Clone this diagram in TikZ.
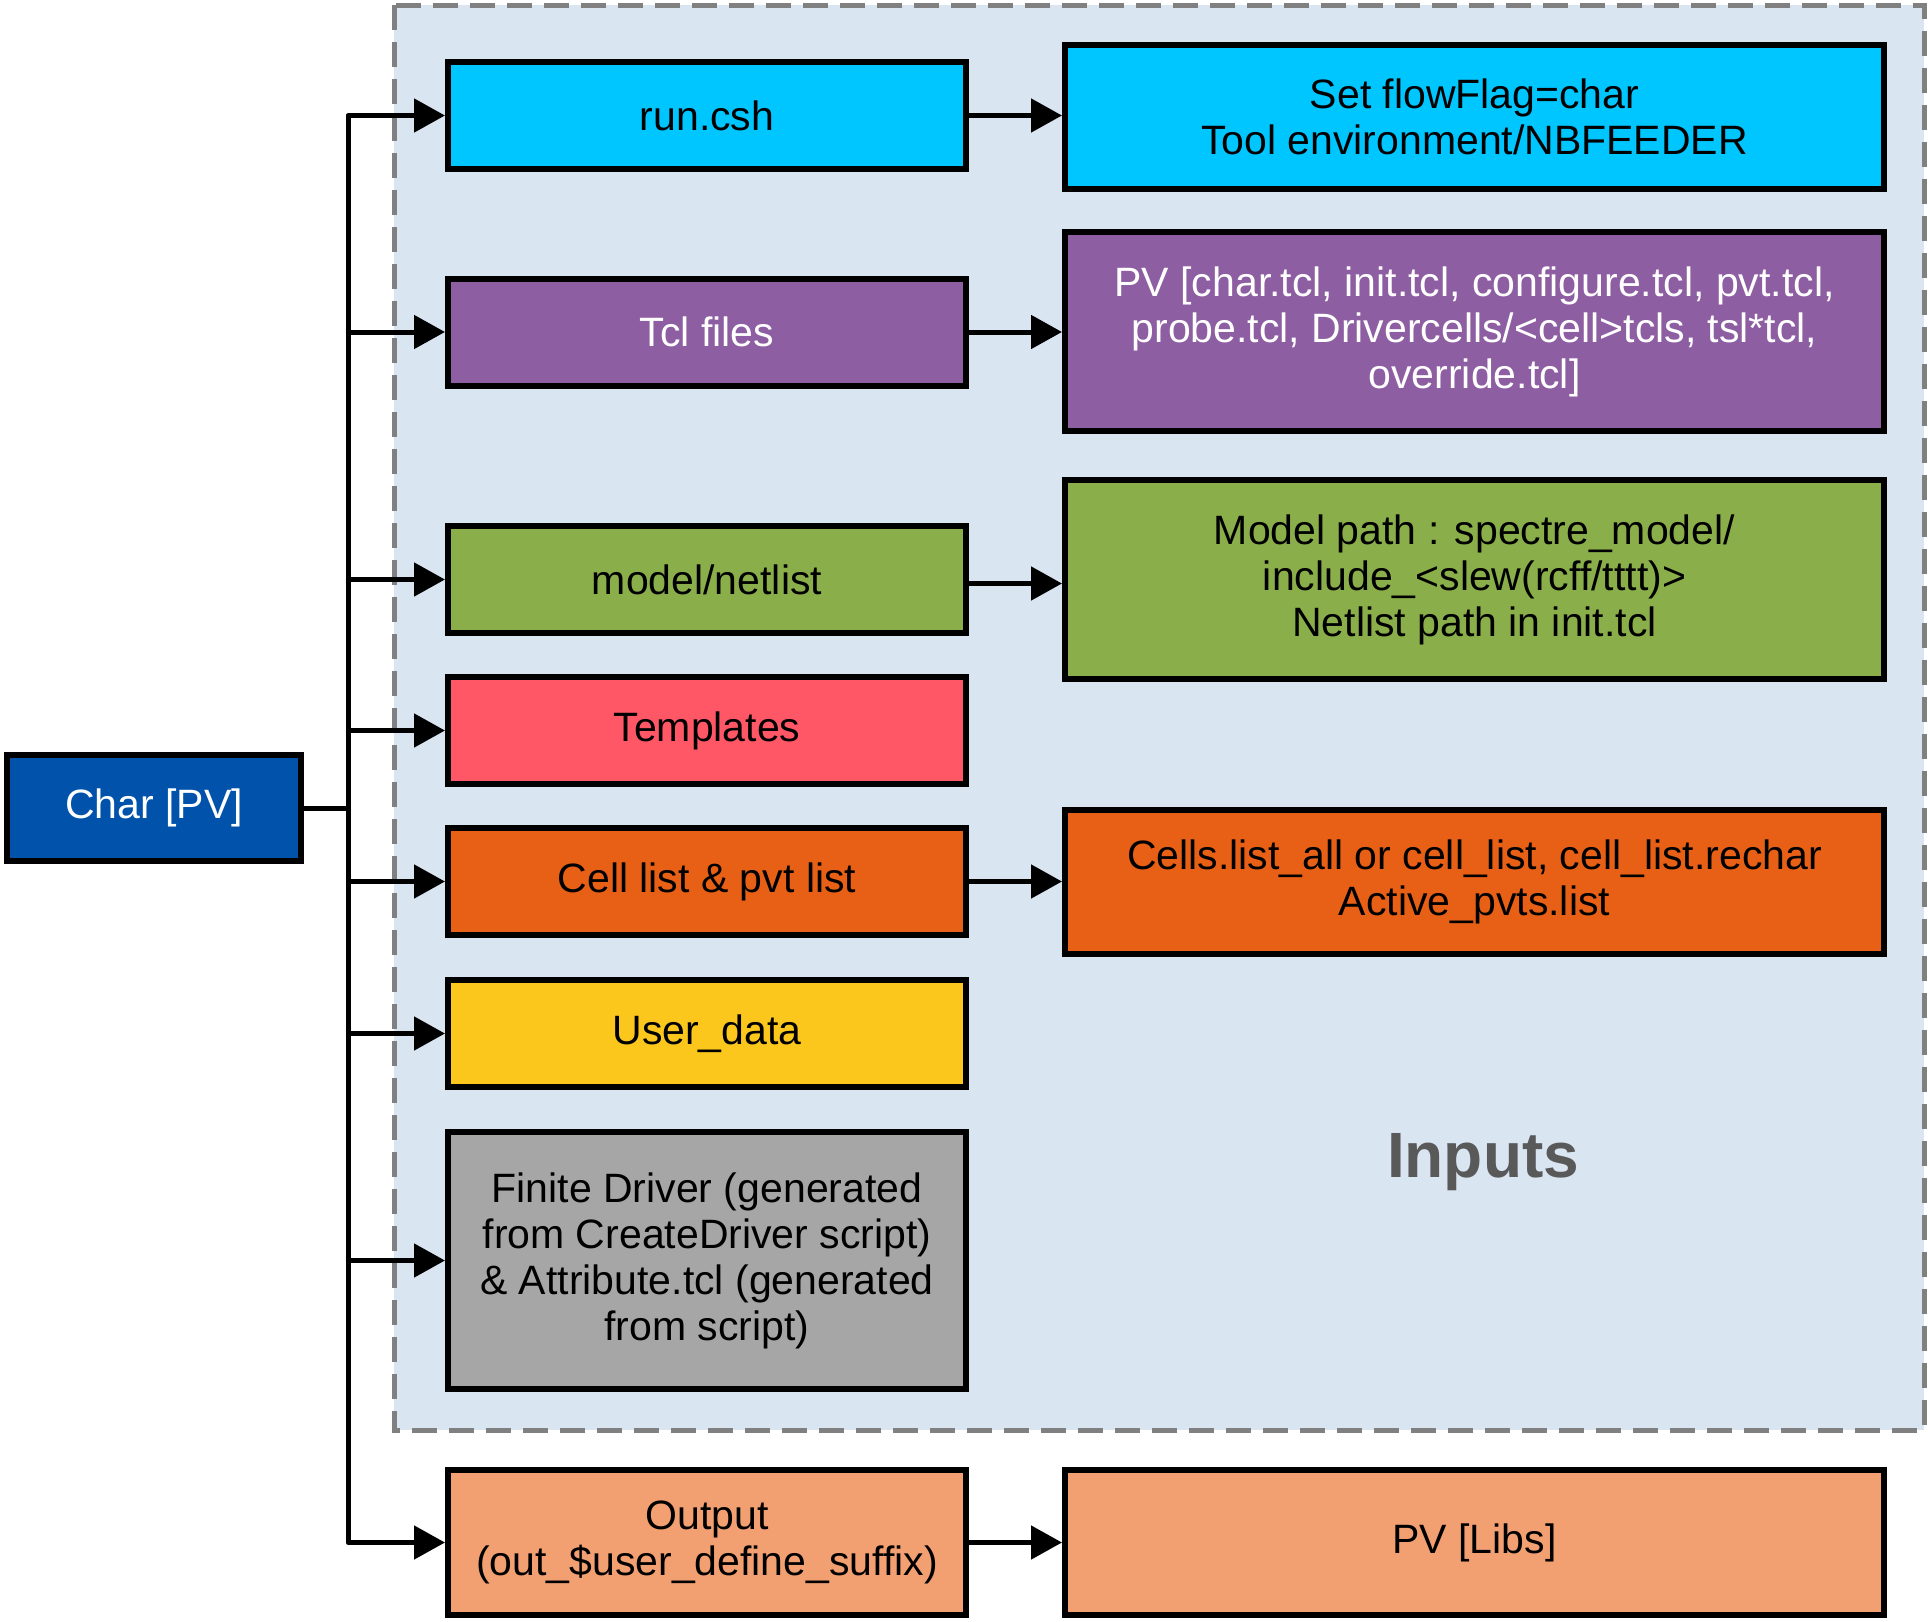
\documentclass[tikz,border=0pt]{standalone}
\usepackage{fontspec}
\setmainfont{Liberation Sans}
\usetikzlibrary{arrows.meta}
\definecolor{cchar}{HTML}{0052AA}
\definecolor{crun}{HTML}{00C6FF}
\definecolor{ctcl}{HTML}{8E5EA2}
\definecolor{cmodel}{HTML}{8AAF4A}
\definecolor{ctempl}{HTML}{FF5766}
\definecolor{ccell}{HTML}{E86016}
\definecolor{cuser}{HTML}{FCC71C}
\definecolor{cfinite}{HTML}{A6A6A6}
\definecolor{cout}{HTML}{F2A072}
\definecolor{cbg}{HTML}{DAE5F2}
\definecolor{cdash}{HTML}{808080}
\definecolor{cinputs}{HTML}{595959}
\begin{document}
\begin{tikzpicture}[x=1pt,y=-1pt,
  box/.style={draw=black, line width=6pt, rectangle, align=center, inner sep=0pt,
    font=\fontsize{41}{46}\selectfont},
  lbox/.style={box, minimum width=518pt, minimum height=107pt},
  rbox/.style={box, minimum width=819pt},
  conn/.style={line width=5pt},
  arr/.style={conn, -{Triangle[length=31pt,width=33pt]}},
]
\useasboundingbox (0,0) rectangle (1928,1622);
% Inputs region
\draw[fill=cbg, draw=cdash, line width=5pt, dash pattern=on 25pt off 12pt]
  (394,5) rectangle (1924,1430);
\node[font=\fontsize{64}{70}\selectfont\bfseries, text=cinputs] (inputs) at (1483,1162) {Inputs};

% left node
\node[box, fill=cchar, text=white, minimum width=294pt, minimum height=106pt] (char) at (154,808) {Char [PV]};

% left column
\node[lbox, fill=crun] (run) at (707,115.5) {run.csh};
\node[lbox, fill=ctcl, text=white] (tcl) at (707,332) {Tcl files};
\node[lbox, fill=cmodel] (model) at (707,579.5) {model/netlist};
\node[lbox, fill=ctempl] (templ) at (707,730.5) {Templates};
\node[lbox, fill=ccell] (cell) at (707,881.5) {Cell list \& pvt list};
\node[lbox, fill=cuser] (user) at (707,1033.5) {User\_data};
\node[lbox, fill=cfinite, minimum height=257pt] (finite) at (707,1260.5)
  {Finite Driver (generated\\from CreateDriver script)\\\& Attribute.tcl (generated\\from script)};
\node[lbox, fill=cout, minimum height=145pt] (out) at (707,1542.5)
  {Output\\(out\_\$user\_define\_suffix)};

% right column
\node[rbox, fill=crun, minimum height=144pt] (flow) at (1474.5,117)
  {Set flowFlag=char\\Tool environment/NBFEEDER};
\node[rbox, fill=ctcl, text=white, minimum height=199pt] (pvtcl) at (1474.5,331.5)
  {PV [char.tcl, init.tcl, configure.tcl, pvt.tcl,\\probe.tcl, Drivercells/<cell>tcls, tsl*tcl,\\override.tcl]};
\node[rbox, fill=cmodel, minimum height=199pt] (mpath) at (1474.5,579.5)
  {Model path : spectre\_model/\\include\_<slew(rcff/tttt)>\\Netlist path in init.tcl};
\node[rbox, fill=ccell, minimum height=144pt] (cells) at (1474.5,882)
  {Cells.list\_all or cell\_list, cell\_list.rechar\\Active\_pvts.list};
\node[rbox, fill=cout, minimum height=145pt] (libs) at (1474.5,1542.5) {PV [Libs]};

% trunk
\coordinate (trunk) at (348,808);
\draw[conn] (char.east) -- (trunk);
\draw[conn, line cap=round] (trunk |- run.west) -- (trunk |- out.west);
\foreach \n in {run,tcl,model,templ,cell,user,finite,out}
  \draw[arr] (trunk |- \n.west) -- (\n.west);

% right arrows
\draw[arr] (run.east) -- (run.east -| flow.west);
\draw[arr] (tcl.east) -- (tcl.east -| pvtcl.west);
\draw[arr] ([yshift=-4pt]model.east) -- ([yshift=-4pt]model.east -| mpath.west);
\draw[arr] (cell.east) -- (cell.east -| cells.west);
\draw[arr] (out.east) -- (out.east -| libs.west);
\end{tikzpicture}
\end{document}
